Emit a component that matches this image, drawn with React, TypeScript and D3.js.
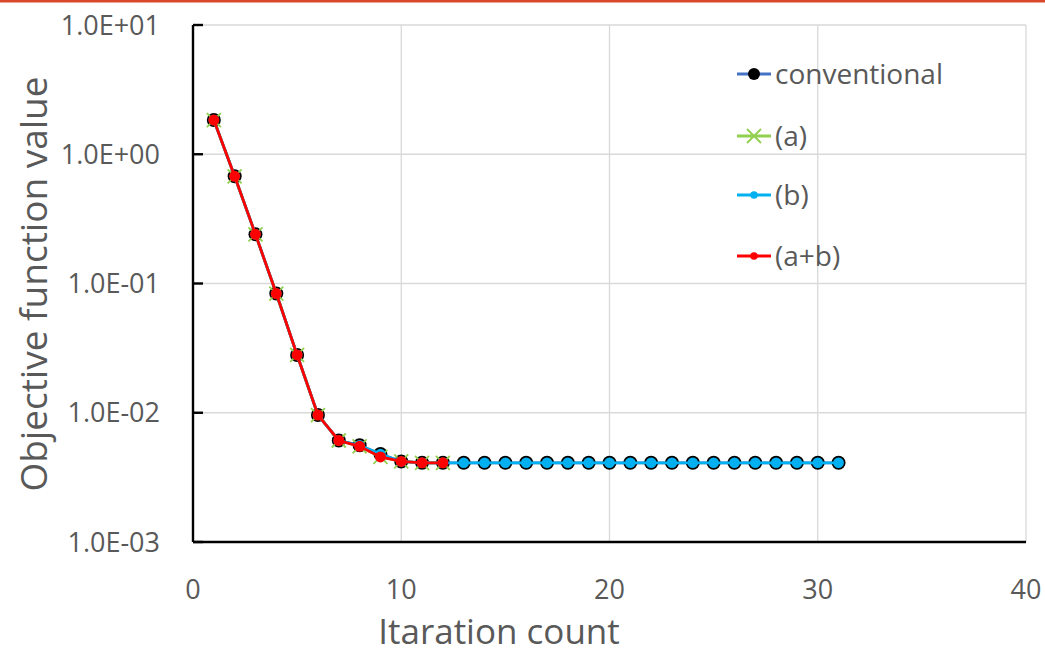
import React from 'react';
import * as d3 from 'd3';

// iteration count vs objective function value
const iterConv = d3.range(1, 32);
const valConv = [
  1.84, 0.675, 0.24, 0.0836, 0.028, 0.0096, 0.0061, 0.0056, 0.0048, 0.0042, 0.0041,
  0.0041, 0.0041, 0.0041, 0.0041, 0.0041, 0.0041, 0.0041, 0.0041, 0.0041, 0.0041,
  0.0041, 0.0041, 0.0041, 0.0041, 0.0041, 0.0041, 0.0041, 0.0041, 0.0041, 0.0041,
];
const iterA = d3.range(1, 13);
const valA = [1.84, 0.675, 0.24, 0.0836, 0.028, 0.0096, 0.0061, 0.0055, 0.00455, 0.0042, 0.0041, 0.0041];
const valB = valConv.slice();
const valAB = [1.84, 0.675, 0.24, 0.0836, 0.028, 0.0096, 0.0061, 0.0055, 0.00455, 0.0042, 0.0041, 0.0041];

const yTicks = [10, 1, 0.1, 0.01, 0.001];
const yTickLabels = ['1.0E+01', '1.0E+00', '1.0E-01', '1.0E-02', '1.0E-03'];
const xTicks = [0, 10, 20, 30, 40];
const legendNames = ['conventional', '(a)', '(b)', '(a+b)'];

const FONT = '"Open Sans", "Noto Sans", sans-serif';
const TXT = '#595959';

export default function App() {
  const W = 1045, H = 653;
  const m = { left: 193, top: 25, right: 1026, bottom: 542 };
  const x = d3.scaleLinear().domain([0, 40]).range([m.left, m.right]);
  const y = d3.scaleLog().domain([0.001, 10]).range([m.bottom, m.top]);

  const line = d3.line<[number, number]>().x(d => x(d[0])).y(d => y(d[1]));
  const pts = (xs: number[], vs: number[]) => xs.map((v, i) => [v, vs[i]] as [number, number]);
  const conv = pts(iterConv, valConv);
  const a = pts(iterA, valA);
  const b = pts(iterConv, valB);
  const ab = pts(iterA, valAB);

  const cross = (cx: number, cy: number, s: number, key: string) => (
    <path key={key} d={`M${cx - s},${cy - s}L${cx + s},${cy + s}M${cx - s},${cy + s}L${cx + s},${cy - s}`}
      stroke="#92d050" strokeWidth={1.8} fill="none" />
  );

  const legY = [74, 136, 195, 256];
  const lx0 = 737, lx1 = 771;

  return (
    <svg width={W} height={H} style={{ position: 'absolute', left: 0, top: 0, background: '#fff' }}>
      <rect x={0} y={0} width={W} height={H} fill="#fff" />
      <rect x={0} y={0} width={W} height={2.5} fill="#d9472b" />
      {/* grid */}
      {yTicks.map(t => (
        <line key={'gy' + t} x1={m.left} x2={m.right} y1={y(t)} y2={y(t)} stroke="#d9d9d9" strokeWidth={1.3} />
      ))}
      {xTicks.slice(1).map(t => (
        <line key={'gx' + t} x1={x(t)} x2={x(t)} y1={m.top} y2={m.bottom} stroke="#d9d9d9" strokeWidth={1.3} />
      ))}
      {/* axes */}
      <line x1={m.left} x2={m.left} y1={m.top} y2={m.bottom} stroke="#000" strokeWidth={2.4} />
      <line x1={m.left} x2={m.right} y1={m.bottom} y2={m.bottom} stroke="#000" strokeWidth={2.4} />
      {yTicks.map(t => (
        <line key={'ty' + t} x1={m.left} x2={m.left + 10} y1={y(t)} y2={y(t)} stroke="#000" strokeWidth={2.4} />
      ))}
      {yTicks.map((t, i) => (
        <text key={'ly' + t} x={160} y={y(t)} dy="0.36em" textAnchor="end" fontFamily={FONT} fontSize={27} fill={TXT}>
          {yTickLabels[i]}
        </text>
      ))}
      {xTicks.map(t => (
        <text key={'lx' + t} x={x(t)} y={589} dy="0.36em" textAnchor="middle" fontFamily={FONT} fontSize={27} fill={TXT}>
          {t}
        </text>
      ))}
      <text x={499} y={644} textAnchor="middle" fontFamily={FONT} fontSize={35} fill={TXT}>
        Itaration count
      </text>
      <text transform={`translate(34,284) rotate(-90)`} dy="0.36em" textAnchor="middle"
        fontFamily={FONT} fontSize={37} fill={TXT}>
        Objective function value
      </text>

      {/* conventional */}
      <path d={line(conv) || ''} stroke="#4472c4" strokeWidth={2.8} fill="none" />
      {conv.map((d, i) => <circle key={'c' + i} cx={x(d[0])} cy={y(d[1])} r={7} fill="#000" />)}
      {/* (a) */}
      <path d={line(a) || ''} stroke="#92d050" strokeWidth={2.8} fill="none" />
      {a.map((d, i) => cross(x(d[0]), y(d[1]), 7, 'a' + i))}
      {/* (b) */}
      <path d={line(b) || ''} stroke="#00b0f0" strokeWidth={2.8} fill="none" />
      {b.map((d, i) => <circle key={'b' + i} cx={x(d[0])} cy={y(d[1])} r={5.3} fill="#00b0f0" />)}
      {/* (a+b) */}
      <path d={line(ab) || ''} stroke="#ff0000" strokeWidth={2.8} fill="none" />
      {ab.map((d, i) => <circle key={'ab' + i} cx={x(d[0])} cy={y(d[1])} r={5.5} fill="#ff0000" />)}

      {/* legend */}
      <g>
        <line x1={lx0} x2={lx1} y1={legY[0]} y2={legY[0]} stroke="#4472c4" strokeWidth={2.8} />
        <circle cx={(lx0 + lx1) / 2} cy={legY[0]} r={6} fill="#000" />
        <line x1={lx0} x2={lx1} y1={legY[1]} y2={legY[1]} stroke="#92d050" strokeWidth={2.8} />
        {cross((lx0 + lx1) / 2, legY[1], 7, 'legA')}
        <line x1={lx0} x2={lx1} y1={legY[2]} y2={legY[2]} stroke="#00b0f0" strokeWidth={2.8} />
        <circle cx={(lx0 + lx1) / 2} cy={legY[2]} r={3.8} fill="#00b0f0" />
        <line x1={lx0} x2={lx1} y1={legY[3]} y2={legY[3]} stroke="#ff0000" strokeWidth={2.8} />
        <circle cx={(lx0 + lx1) / 2} cy={legY[3]} r={3.8} fill="#ff0000" />
        {legendNames.map((n, i) => (
          <text key={n} x={775} y={legY[i]} dy="0.36em" fontFamily={FONT} fontSize={28} fill={TXT}>{n}</text>
        ))}
      </g>
    </svg>
  );
}
